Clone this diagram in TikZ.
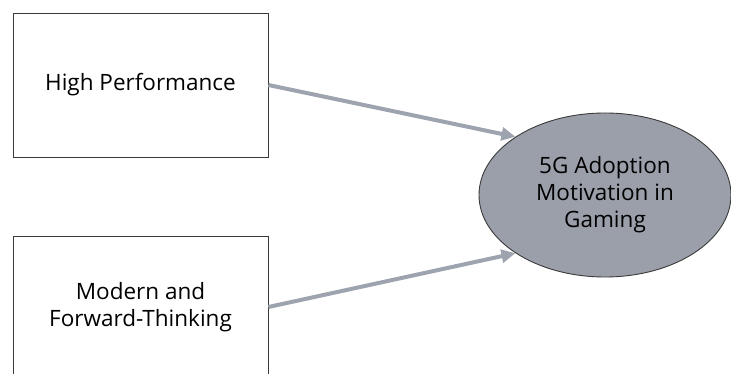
\documentclass[tikz,border=0pt]{standalone}
\usepackage{fontspec}
\setmainfont{Open Sans}
\usepackage{xcolor}
\usepackage{tikz}
\usetikzlibrary{shapes.geometric, arrows.meta, positioning}
\definecolor{boxline}{HTML}{3A3A3A}
\definecolor{goalfill}{HTML}{9A9FAA}
\definecolor{arrowgray}{HTML}{9EA4AF}

\begin{document}
\begin{tikzpicture}[
    x=1pt, y=1pt,
    factor/.style={
        draw=boxline, line width=0.9pt, fill=white,
        rectangle, align=center,
        font=\fontsize{22.5}{27}\selectfont,
        minimum width=255pt, minimum height=144pt,
        inner sep=0pt,
    },
    goal/.style={
        draw=boxline, line width=0.9pt, fill=goalfill,
        ellipse, align=center,
        font=\fontsize{22.5}{27}\selectfont,
        minimum width=252pt, minimum height=164pt,
        inner sep=0pt,
    },
    arr/.style={
        -{Triangle[length=14pt, width=13pt]}, line width=4pt, draw=arrowgray
    },
]
\useasboundingbox (0,0) rectangle (731,374);
\node[factor] (perf) at (140.5,289) {High Performance};
\node[factor, minimum height=142pt] (modern) at (140.5,67) {Modern and\\Forward-Thinking};
\node[goal] (adopt) at (605,179) {5G Adoption\\Motivation in\\Gaming};

\draw[arr] (perf.east) -- (adopt.147);
\draw[arr] (modern.east) -- (adopt.213);
\end{tikzpicture}
\end{document}
